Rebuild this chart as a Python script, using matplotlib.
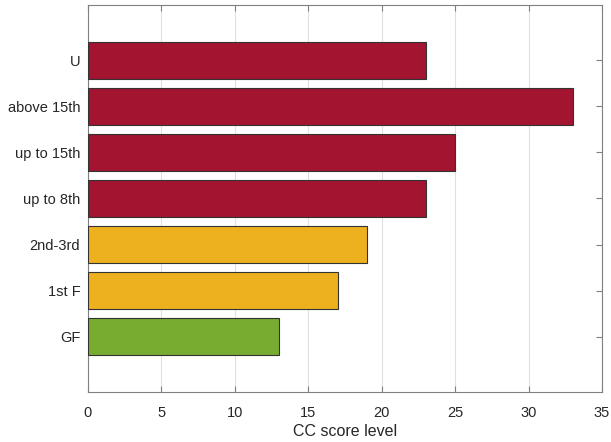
import matplotlib
matplotlib.use("Agg")
import matplotlib.pyplot as plt

categories = ["U", "above 15th", "up to 15th", "up to 8th", "2nd-3rd", "1st F", "GF"]
values = [23, 33, 25, 23, 19, 17, 13]
colors = ["#A2142F", "#A2142F", "#A2142F", "#A2142F", "#EDB120", "#EDB120", "#77AC30"]
xticks = [0, 5, 10, 15, 20, 25, 30, 35]

plt.rcParams['font.family'] = ['Liberation Sans', 'DejaVu Sans']
fig = plt.figure(figsize=(6.11, 4.42), dpi=100)
ax = fig.add_axes([88/611, 50/442, (602-88)/611, (392-5)/442])

pos = list(range(1, len(categories) + 1))
ax.barh(pos, values, height=0.8, color=colors, edgecolor="#333333", linewidth=0.8, zorder=3)
ax.set_ylim(8.2, -0.2)
ax.set_xlim(0, 35)
ax.set_yticks(pos)
ax.set_yticklabels(categories)
ax.set_xticks(xticks)
ax.grid(axis="x", color="#e0e0e0", linewidth=0.8, zorder=0)
ax.set_axisbelow(True)
for s in ax.spines.values():
    s.set_color("#808080")
    s.set_linewidth(0.8)
ax.tick_params(direction="in", top=True, right=True, length=4, color="#808080",
               labelsize=10.5, labelcolor="#262626")
ax.tick_params(axis="y", pad=5.5)
ax.tick_params(axis="x", pad=10)
ax.set_xlabel("CC score level", fontsize=11.5, color="#262626", labelpad=3)
fig.savefig("out.png", dpi=100)
